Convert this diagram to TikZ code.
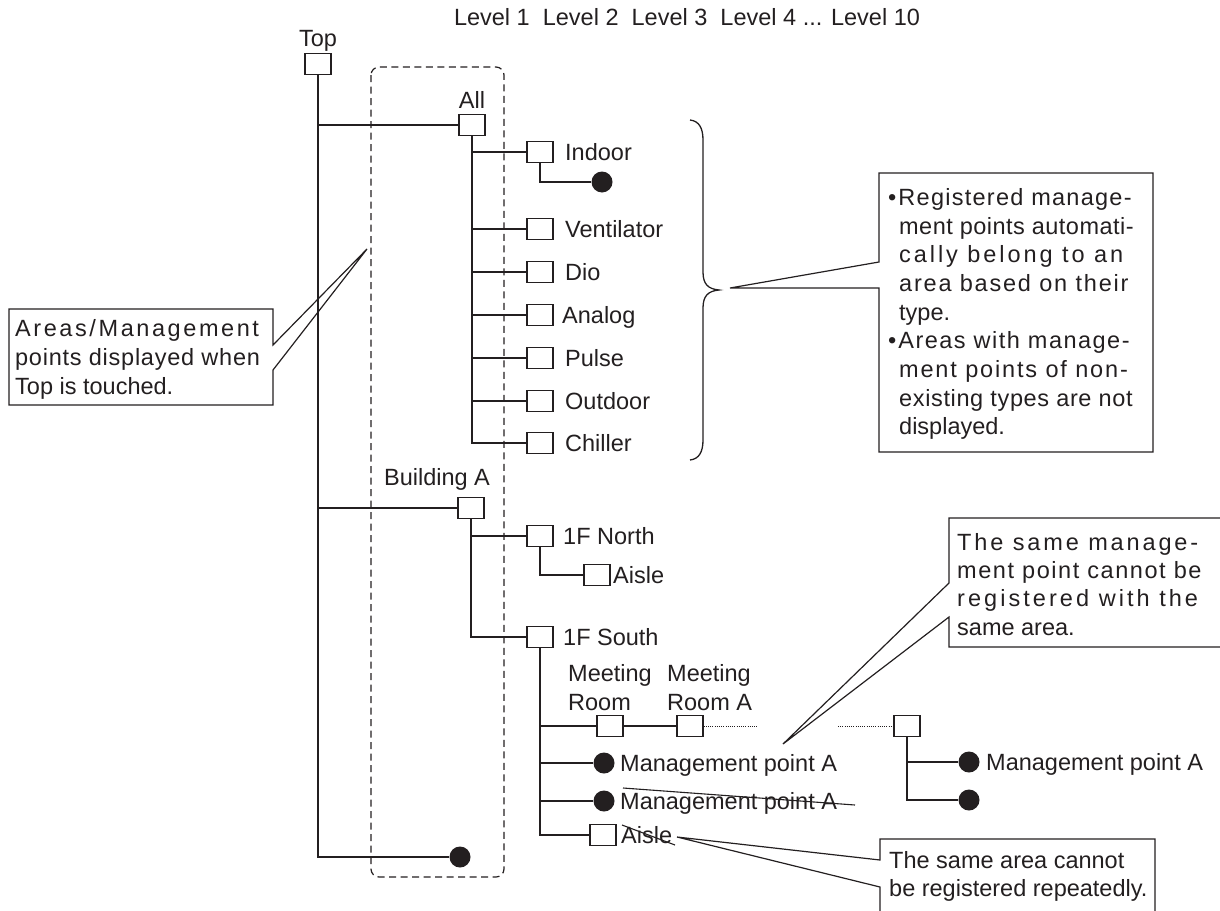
\documentclass[tikz,border=0pt]{standalone}
\usepackage{fontspec}
\setmainfont{Liberation Sans}
\definecolor{ink}{HTML}{231F20}
\newcommand\LS[2]{{\addfontfeatures{LetterSpace=#1}#2}}
\begin{document}
\begin{tikzpicture}[x=1pt,y=-1pt,
  box/.style={draw=ink, fill=white, minimum width=26pt, minimum height=21pt, inner sep=0pt, line width=1.2pt},
  dot/.style={circle, fill=ink, minimum size=21pt, inner sep=0pt},
  lbl/.style={anchor=base west, inner sep=0pt, text=ink, font=\fontsize{23.5}{28}\selectfont},
  clbl/.style={anchor=base, inner sep=0pt, text=ink, font=\fontsize{23.5}{28}\selectfont},
  wire/.style={draw=ink, line width=1.3pt},
  thick wire/.style={draw=ink, line width=2pt},
  dots/.style={draw=ink, line width=0.9pt, dash pattern=on 0.9pt off 1.3pt},
  area/.style={draw=ink, line width=1.2pt, dash pattern=on 7pt off 4.5pt, rounded corners=8pt},
  callout/.style={draw=ink, line width=1.2pt, line join=miter},
  strike/.style={draw=ink, line width=1.1pt}]
\useasboundingbox (0,0) rectangle (1220,910);

% header
\node[clbl] (levels) at (687,25.4) {Level 1~~Level 2~~Level 3~~Level 4 ... Level 10};

% dashed area
\draw[area] (371,67) rectangle (504,877);

% Top
\node[clbl] (toplbl) at (318,46.4) {Top};
\node[box] (top) at (318,64) {};

% All
\node[clbl] (alllbl) at (472,108.4) {All};
\node[box] (all) at (472,125) {};

% level-2 children of All
\node[box] (indoor) at (540,152) {};
\node[lbl] at (565,160.4) {Indoor};
\node[dot] (indot) at (602,182) {};
\node[box] (vent) at (540,229) {};
\node[lbl] at (565,237.4) {Ventilator};
\node[box] (dio) at (540,272) {};
\node[lbl] at (565,280.4) {Dio};
\node[box] (analog) at (540,315) {};
\node[lbl] at (562,323.4) {Analog};
\node[box] (pulse) at (540,358) {};
\node[lbl] at (565,366.4) {Pulse};
\node[box] (outdoor) at (540,401) {};
\node[lbl] at (565,409.4) {Outdoor};
\node[box] (chiller) at (540,443) {};
\node[lbl] at (565,451.4) {Chiller};

% Building A
\node[clbl] (bldlbl) at (437,485.4) {Building A};
\node[box] (bld) at (471,508) {};
\node[box] (north) at (540,536) {};
\node[lbl] at (563,544.4) {1F North};
\node[box] (aisle1) at (597,575) {};
\node[lbl] at (613,583.4) {Aisle};
\node[box] (south) at (540,637) {};
\node[lbl] at (563,645.4) {1F South};

\node[lbl] at (568,681.4) {Meeting};
\node[lbl] at (568,710.4) {Room};
\node[lbl] at (667,681.4) {Meeting};
\node[lbl] at (667,710.4) {Room A};
\node[box] (mroom) at (610,726) {};
\node[box] (mrooma) at (690,726) {};
\coordinate (dotend) at (757,726);
\coordinate (dotstart) at (838,726);
\node[box] (rbox) at (907,726) {};

\node[dot] (mpa) at (604,763) {};
\node[lbl] at (620,771.4) {Management point A};
\node[dot] (mpb) at (604,801) {};
\node[lbl] (mpblbl) at (620,809.4) {Management point A};
\node[box] (aisle2) at (603,835) {};
\node[lbl] (aisle2lbl) at (621,843.4) {Aisle};

\node[dot] (rdot1) at (969,762) {};
\node[lbl] at (986,770.4) {Management point A};
\node[dot] (rdot2) at (969,800) {};

\node[dot] (botdot) at (460,857) {};

% tree connectors
\draw[wire] (top.south) |- (botdot.west);
\draw[wire] (top.south |- all.west) -- (all.west);
\draw[wire] (top.south |- bld.west) -- (bld.west);
\draw[thick wire] (all.south) |- (chiller.west);
\foreach \n in {indoor,vent,dio,analog,pulse,outdoor}
  \draw[wire] (all.south |- \n.west) -- (\n.west);
\draw[wire] (indoor.south) |- (indot.west);
\draw[wire] (bld.south) |- (south.west);
\draw[wire] (bld.south |- north.west) -- (north.west);
\draw[wire] (north.south) |- (aisle1.west);
\draw[wire] (south.south) |- (aisle2.west);
\draw[wire] (south.south |- mroom.west) -- (mroom.west);
\draw[wire] (south.south |- mpa.west) -- (mpa.west);
\draw[wire] (south.south |- mpb.west) -- (mpb.west);
\draw[wire] (mroom.east) -- (mrooma.west);
\draw[dots] (mrooma.east) -- (dotend);
\draw[dots] (dotstart) -- (rbox.west);
\draw[wire] (rbox.south) |- (rdot2.west);
\draw[wire] (rbox.south |- rdot1.west) -- (rdot1.west);

% strike-throughs
\draw[strike] (623,788) -- (855,805);
\draw[strike] (622,825) -- (675,845);

% brace
\draw[draw=ink, line width=1.3pt] (690,120) .. controls (699,121) and (703,128) .. (703,140)
  -- (703,272) .. controls (703,284) and (708,289) .. (719,290)
  .. controls (708,291) and (703,296) .. (703,308)
  -- (703,440) .. controls (703,452) and (699,459) .. (690,460);

% left callout
\coordinate (lcp) at (367,249);
\draw[callout] (273,345) -- (273,309) -- (9,309) -- (9,405) -- (273,405) -- (273,370) -- (lcp) -- cycle;
\node[lbl] at (15,336.4) {\LS{11}{Areas/Management}};
\node[lbl] at (15,365.4) {\LS{3.2}{points displayed when}};
\node[lbl] at (15,394.4) {Top is touched.};

% right (brace) callout
\coordinate (bcp) at (730,288);
\draw[callout] (879,262) -- (879,173) -- (1153,173) -- (1153,452) -- (879,452) -- (879,288) -- (bcp) -- cycle;
\node[lbl] at (888,205.4) {\LS{5.4}{•\kern2pt Registered manage-}};
\node[lbl] at (899,234.4) {\LS{2}{ment points automati-}};
\node[lbl] at (899,262.4) {\LS{12.5}{cally belong to an}};
\node[lbl] at (899,291.4) {\LS{7.6}{area based on their}};
\node[lbl] at (899,320.4) {type.};
\node[lbl] at (888,348.4) {\LS{6.3}{•\kern2pt Areas with manage-}};
\node[lbl] at (899,377.4) {\LS{7.8}{ment points of non-}};
\node[lbl] at (899,406.4) {\LS{2.7}{existing types are not}};
\node[lbl] at (899,434.4) {displayed.};

% top-right callout
\coordinate (tcp) at (783,744);
\draw[callout] (1224,518) -- (949,518) -- (949,583) -- (tcp) -- (949,617) -- (949,647) -- (1224,647);
\node[lbl] at (957,550.4) {\LS{12.2}{The same manage-}};
\node[lbl] at (957,578.4) {\LS{6.6}{ment point cannot be}};
\node[lbl] at (957,606.4) {\LS{13}{registered with the}};
\node[lbl] at (957,635.4) {same area.};

% bottom callout
\coordinate (acp) at (677,837);
\draw[callout] (880,915) -- (880,887) -- (acp) -- (880,860) -- (880,839) -- (1155,839) -- (1155,915);
\node[lbl] at (889,868.4) {The same area cannot};
\node[lbl] at (889,896.4) {be registered repeatedly.};
\end{tikzpicture}
\end{document}
